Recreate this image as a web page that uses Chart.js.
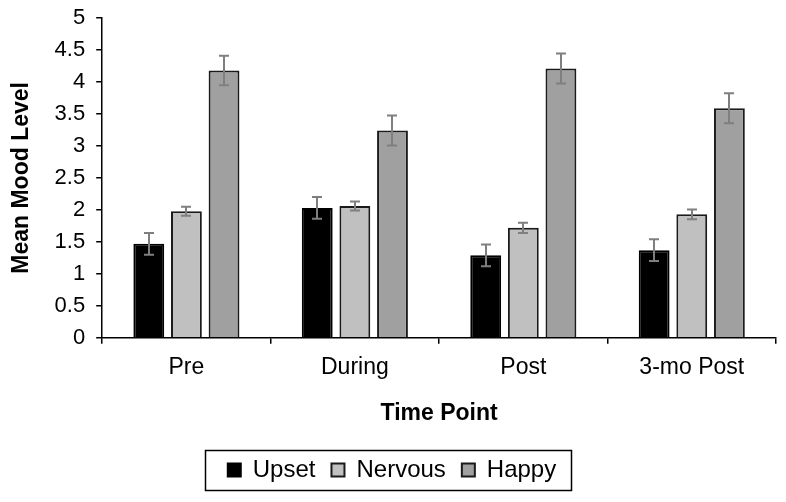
<!DOCTYPE html>
<html>
<head>
<meta charset="utf-8">
<script src="https://cdn.jsdelivr.net/npm/chart.js@4/dist/chart.umd.min.js"></script>
<style>
html,body{margin:0;padding:0;background:#fff;}
#wrap{width:786px;height:502px;position:relative;}
</style>
</head>
<body>
<div id="wrap"><canvas id="c" width="786" height="502"></canvas></div>
<script>
const categories = ['Pre', 'During', 'Post', '3-mo Post'];
const upset = [1.47, 2.03, 1.29, 1.37];
const nervous = [1.98, 2.06, 1.72, 1.93];
const happy = [4.18, 3.24, 4.21, 3.59];
const upsetErr = [0.17, 0.17, 0.17, 0.17];
const nervousErr = [0.07, 0.07, 0.08, 0.075];
const happyErr = [0.23, 0.235, 0.235, 0.235];
const yTicks = [0, 0.5, 1, 1.5, 2, 2.5, 3, 3.5, 4, 4.5, 5];

const FONT = '"Liberation Sans", Arial, sans-serif';

const errorBars = {
  id: 'errorBars',
  afterDatasetsDraw(chart) {
    const ctx = chart.ctx;
    const y = chart.scales.y;
    ctx.save();
    ctx.strokeStyle = '#7f7f7f';
    ctx.lineWidth = 2;
    chart.data.datasets.forEach((ds, i) => {
      const meta = chart.getDatasetMeta(i);
      meta.data.forEach((bar, j) => {
        const v = ds.data[j], e = ds.errors[j];
        const x = Math.round(bar.x);
        const yt = y.getPixelForValue(v + e), yb = y.getPixelForValue(v - e);
        ctx.beginPath();
        ctx.moveTo(x, yt); ctx.lineTo(x, yb);
        ctx.moveTo(x - 5, yt); ctx.lineTo(x + 5, yt);
        ctx.moveTo(x - 5, yb); ctx.lineTo(x + 5, yb);
        ctx.stroke();
      });
    });
    ctx.restore();
  }
};

const legendBorder = {
  id: 'legendBorder',
  afterDraw(chart) {
    const lg = chart.legend;
    if (!lg || !lg.legendHitBoxes || !lg.legendHitBoxes.length) return;
    const hb = lg.legendHitBoxes;
    const first = hb[0], last = hb[hb.length - 1];
    const left = first.left - 23, right = last.left + last.width + 15;
    const cy = first.top + first.height / 2;
    const ctx = chart.ctx;
    ctx.save();
    ctx.strokeStyle = '#000';
    ctx.lineWidth = 1.5;
    ctx.strokeRect(Math.round(left) + 0.5, Math.round(cy - 20) + 0.5, Math.round(right - left), 40);
    ctx.restore();
  }
};

new Chart(document.getElementById('c'), {
  type: 'bar',
  data: {
    labels: categories,
    datasets: [
      { label: 'Upset', data: upset, errors: upsetErr, backgroundColor: '#000000', borderColor: '#000000', borderWidth: 2 },
      { label: 'Nervous', data: nervous, errors: nervousErr, backgroundColor: '#c0c0c0', borderColor: '#1a1a1a', borderWidth: 2 },
      { label: 'Happy', data: happy, errors: happyErr, backgroundColor: '#a0a0a0', borderColor: '#1a1a1a', borderWidth: 2 }
    ]
  },
  options: {
    responsive: false,
    animation: false,
    devicePixelRatio: 1,
    layout: { padding: { top: 0, right: 10, left: 8, bottom: 10 } },
    datasets: { bar: { categoryPercentage: 0.67, barPercentage: 0.82 } },
    scales: {
      x: {
        grid: { offset: true, drawOnChartArea: false, drawTicks: true, tickLength: 6, color: '#000', lineWidth: 1.5 },
        border: { color: '#000', width: 1.5 },
        ticks: { color: '#000', font: { family: FONT, size: 23 }, padding: 10, autoSkip: false, maxRotation: 0 },
        title: { display: true, text: 'Time Point', color: '#000', font: { family: FONT, size: 23, weight: 'bold' }, padding: { top: 8, bottom: 15 } }
      },
      y: {
        min: 0, max: 5,
        afterBuildTicks(scale) { scale.ticks = yTicks.map(v => ({ value: v })); },
        afterFit(scale) { scale.paddingTop = 18; },
        grid: { drawOnChartArea: false, drawTicks: true, tickLength: 6, color: '#000', lineWidth: 1.5 },
        border: { color: '#000', width: 1.5 },
        ticks: { color: '#000', font: { family: FONT, size: 22 }, padding: 11, autoSkip: false, callback: v => String(v) },
        title: { display: true, text: 'Mean Mood Level', color: '#000', font: { family: FONT, size: 23, weight: 'bold' }, padding: { top: 0, bottom: 8 } }
      }
    },
    plugins: {
      legend: {
        position: 'bottom',
        labels: { color: '#000', font: { family: FONT, size: 24 }, boxWidth: 13, boxHeight: 13, padding: 16 }
      },
      tooltip: { enabled: false }
    }
  },
  plugins: [errorBars, legendBorder]
});
</script>
</body>
</html>
